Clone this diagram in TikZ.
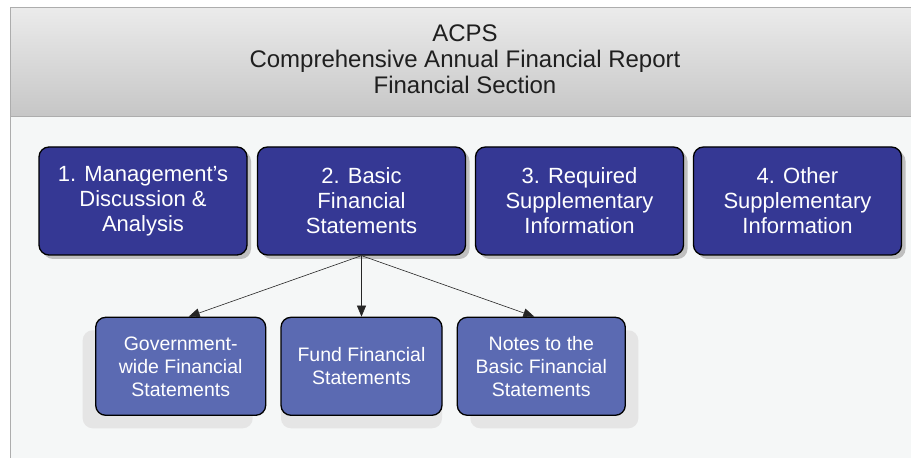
\documentclass[tikz,border=0pt]{standalone}
\usepackage{fontspec}
\setmainfont{Liberation Sans}
\usetikzlibrary{arrows.meta,positioning,shadows}

\definecolor{mainblue}{HTML}{353894}
\definecolor{subblue}{HTML}{5B6AB2}
\definecolor{pagebg}{HTML}{F5F7F7}
\definecolor{headtop}{HTML}{EBEBEB}
\definecolor{headbot}{HTML}{C6C6C6}
\definecolor{rulegray}{HTML}{ADADAD}
\definecolor{headtext}{HTML}{1F1F1F}

\begin{document}
\begin{tikzpicture}[x=1pt, y=1pt, >=Latex, node distance=61pt and 14pt]

  % ===== Styles =====
  \tikzset{
    arrow/.style={-{Triangle[length=11pt, width=9pt]}, line width=0.6pt, black!85},
    mainbox/.style={draw=black, line width=1.3pt, rounded corners=10pt, fill=mainblue, text=white,
      align=center, font=\fontsize{22}{25}\selectfont, minimum width=208pt, minimum height=108pt, inner sep=0pt,
      drop shadow={shadow xshift=4pt, shadow yshift=-4pt, fill=black!25, opacity=1}},
    subbox/.style={draw=black, line width=1.3pt, rounded corners=10pt, fill=subblue, text=white,
      align=center, font=\fontsize{19.5}{23}\selectfont, minimum height=98pt, inner sep=0pt},
    subshadow/.style={drop shadow={shadow xshift=#1, shadow yshift=-13pt, fill=black!10, opacity=1}},
    headline/.style={font=\fontsize{24}{26}\selectfont, text=headtext, align=center}
  }

  % ===== Page frame and header band =====
  \useasboundingbox (0,0) rectangle (911,458);
  \fill[white] (0,0) rectangle (911,458);
  \fill[pagebg] (10,0) rectangle (911,450);
  \shade[top color=headtop, bottom color=headbot] (10,341) rectangle (911,450);
  \draw[rulegray, line width=1pt] (10,-2) -- (10,450) -- (913,450);
  \draw[rulegray, line width=1pt] (10,341) -- (913,341);

  \node[headline] (Head) at (465,399) {ACPS\\Comprehensive Annual Financial Report\\Financial Section};

  % ===== Column anchors for the four sections =====
  \coordinate (C1) at (143,257);
  \coordinate (C2) at (361.5,257);
  \coordinate (C3) at (579.5,257);
  \coordinate (C4) at (797.5,257);

  \node[mainbox] (MDA) at (C1) {1. Management's\\Discussion \&\\Analysis};
  \node[mainbox] (BFS) at (C2) {2. Basic\\Financial\\Statements};
  \node[mainbox] (RSI) at (C3) {3. Required\\Supplementary\\Information};
  \node[mainbox] (OSI) at (C4) {4. Other\\Supplementary\\Information};

  % ===== Parts of the basic statements =====
  \node[subbox, subshadow=0pt, shadow yshift=-16pt, minimum width=161pt, below=of BFS] (Fund) {Fund Financial\\Statements};
  \node[subbox, subshadow=-13pt, minimum width=170pt, left=of Fund] (Gov) {Government-\\wide Financial\\Statements};
  \node[subbox, subshadow=13pt, minimum width=168pt, right=of Fund] (Notes) {Notes to the\\Basic Financial\\Statements};

  % ===== Connections =====
  \draw[arrow] (BFS.south) -- ([xshift=8pt]Gov.north);
  \draw[arrow] (BFS.south) -- (Fund.north);
  \draw[arrow] (BFS.south) -- ([xshift=-7pt]Notes.north);

\end{tikzpicture}
\end{document}
